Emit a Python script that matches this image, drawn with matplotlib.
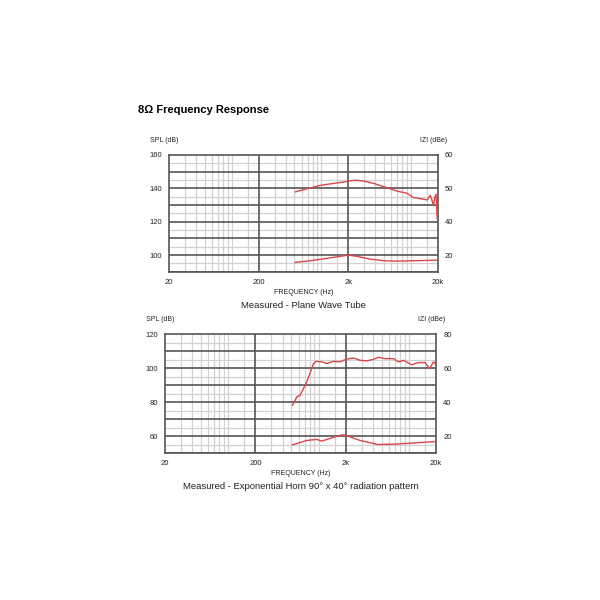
import numpy as np
import matplotlib
matplotlib.use("Agg")
from matplotlib import pyplot as plt
from matplotlib.ticker import FixedLocator, NullLocator

plt.rcParams['font.family'] = ['Liberation Sans', 'DejaVu Sans']

# top chart: plane wave tube
pwt_freq = [510, 690, 970, 1370, 1770, 2000, 2390, 2960, 3820, 5380, 6970, 9000,
            10700, 12600, 15100, 16400, 17100, 17800, 18400, 19000, 19600, 20000]
pwt_spl = [137.8, 139.7, 141.7, 142.9, 143.7, 144.3, 144.8, 144.3, 142.9, 140.3, 138.3, 137.0,
           134.4, 133.8, 133.0, 135.8, 133.0, 129.5, 134.5, 136.4, 121.6, 130.0]
pwt_imp_freq = [510, 800, 1200, 1600, 2000, 2500, 3500, 5000, 7000, 10000, 15000, 20000]
pwt_imp = [27.8, 28.4, 29.1, 29.6, 30.0, 29.6, 28.8, 28.3, 28.2, 28.3, 28.4, 28.5]

# bottom chart: exponential horn
horn_freq = [514, 574, 624, 740, 877, 939, 1085, 1233, 1460, 1730, 2000, 2430, 2880, 3410,
             4050, 4600, 5450, 6740, 7660, 8700, 10760, 12740, 15100, 16030, 16870, 18670, 20000]
horn_spl = [78.1, 83.0, 84.0, 91.9, 102.7, 104.0, 103.7, 102.7, 104.0, 103.7, 105.2, 106.0,
            104.6, 104.3, 105.2, 106.4, 105.6, 105.6, 103.7, 104.6, 102.0, 103.3, 103.3, 101.3,
            99.7, 103.7, 102.0]
horn_imp_freq = [514, 740, 955, 1085, 1460, 1800, 2000, 2880, 4500, 7000, 12000, 20000]
horn_imp = [14.8, 17.4, 18.0, 17.0, 19.2, 20.7, 20.4, 17.4, 15.0, 15.2, 16.0, 16.8]

xticks = [20, 200, 2000, 20000]
xlabels = ['20', '200', '2k', '20k']
# graph paper lines inside each decade (multiples of the decade start)
paper_steps = [1.5, 2, 2.5, 3, 3.5, 4, 4.5, 5, 7.5]

red = '#d9474b'
txt = '#222222'


def draw_chart(rect, ylim, yticks, rticks, rlabels, rlim, f, spl, fi, imp, caption):
    ax = fig.add_axes(rect)
    ax.set_xscale('log')
    ax.set_xlim(20, 20000)
    ax.set_ylim(*ylim)
    # grid
    for dec in [20, 200, 2000]:
        for m in paper_steps:
            ax.axvline(dec * m, color='#d2d2d2', lw=0.9, zorder=0)
    for x in [200, 2000]:
        ax.axvline(x, color='#555555', lw=1.2, zorder=1)
    for y in np.arange(ylim[0], ylim[1], 5):
        if y % 10 == 0:
            ax.axhline(y, color='#555555', lw=1.2, zorder=1)
        else:
            ax.axhline(y, color='#d2d2d2', lw=0.9, zorder=0)
    for s in ax.spines.values():
        s.set_color('#555555')
        s.set_linewidth(1.2)
    ax.plot(f, spl, color=red, lw=1.0, zorder=3)
    ax.xaxis.set_major_locator(FixedLocator(xticks))
    ax.xaxis.set_minor_locator(NullLocator())
    ax.set_xticklabels(xlabels)
    ax.set_yticks(yticks)
    ax.tick_params(length=0, labelsize=5.5, pad=5, labelcolor=txt)
    ax.set_xlabel('FREQUENCY (Hz)', fontsize=5, labelpad=2, color=txt)
    ax.text(-0.07, 1.125, 'SPL (dB)', transform=ax.transAxes, fontsize=5, ha='left', va='center', color=txt)
    ax.text(1.035, 1.125, 'IZI (dBe)', transform=ax.transAxes, fontsize=5, ha='right', va='center', color=txt)
    ax.text(0.5, -0.285, caption, transform=ax.transAxes, fontsize=6.8, ha='center', va='center', color=txt)
    ax2 = ax.twinx()
    ax2.set_ylim(*rlim)
    ax2.plot(fi, imp, color=red, lw=1.0, zorder=3)
    ax2.yaxis.set_major_locator(FixedLocator(rticks))
    ax2.set_yticklabels(rlabels)
    ax2.tick_params(length=0, labelsize=5.5, pad=5, labelcolor=txt)
    for s in ax2.spines.values():
        s.set_visible(False)
    return ax


fig = plt.figure(figsize=(6, 6), dpi=100)
fig.text(0.23, 0.817, '8\u03a9 Frequency Response', fontsize=8, fontweight='bold',
         ha='left', va='center', color='black')

draw_chart([0.282, 0.547, 0.448, 0.195], (90, 160), [100, 120, 140, 160],
           [30, 40, 50, 60], ['20', '40', '50', '60'], (25, 60),
           pwt_freq, pwt_spl, pwt_imp_freq, pwt_imp, 'Measured - Plane Wave Tube')

draw_chart([0.275, 0.245, 0.452, 0.198], (50, 120), [60, 80, 100, 120],
           [20, 40, 60, 80], ['20', '40', '60', '80'], (10, 80),
           horn_freq, horn_spl, horn_imp_freq, horn_imp,
           'Measured - Exponential Horn 90\u00b0 x 40\u00b0 radiation pattern')

fig.savefig('out.png', dpi=100, facecolor='white')
